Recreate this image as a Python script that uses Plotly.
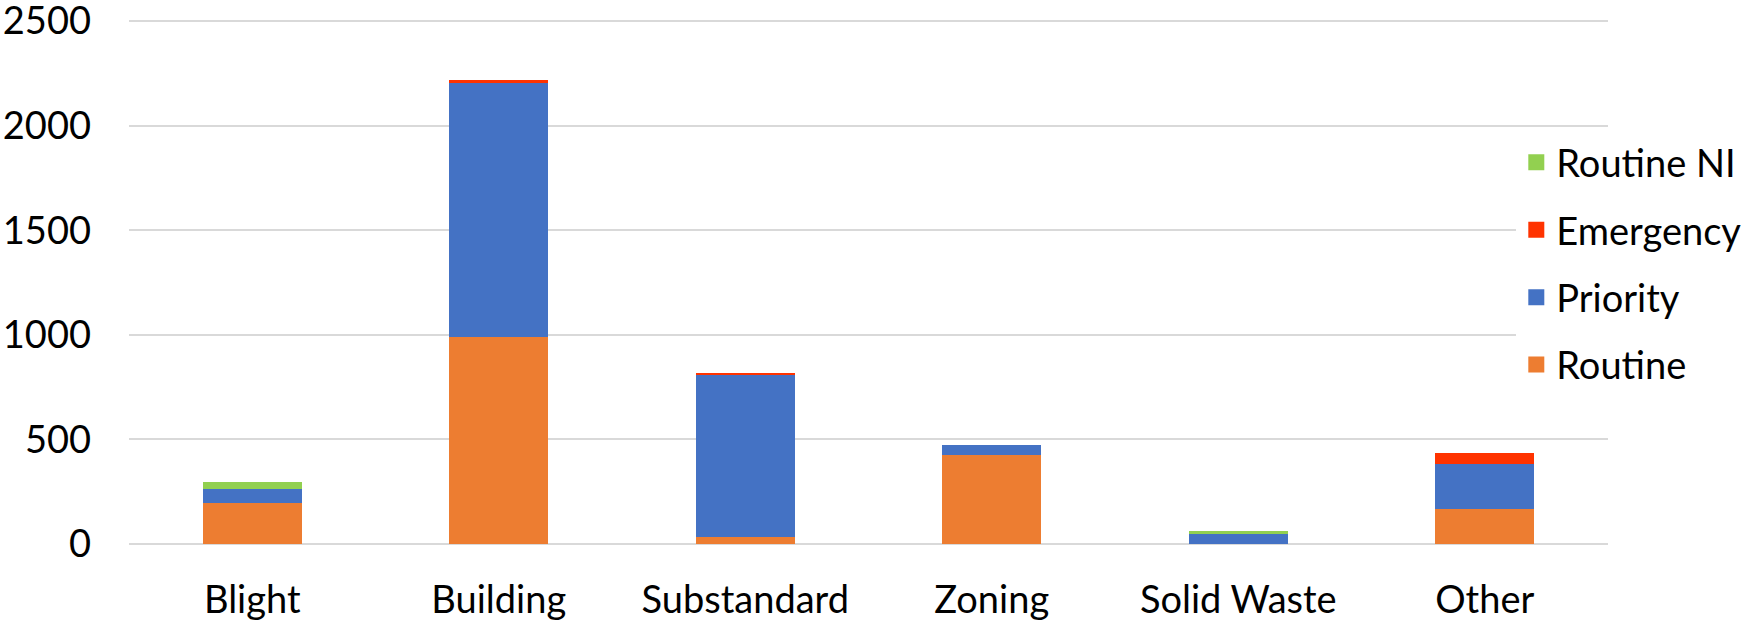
import plotly.graph_objects as go

categories = ["Blight", "Building", "Substandard", "Zoning", "Solid Waste", "Other"]
routine = [197, 990, 32, 425, 0, 166]
priority = [67, 1213, 780, 46, 52, 216]
emergency = [0, 14, 3, 0, 0, 55]
routine_ni = [34, 0, 0, 0, 8, 0]

series = [
    ("Routine", routine, "#ED7D31"),
    ("Priority", priority, "#4472C4"),
    ("Emergency", emergency, "#FF3300"),
    ("Routine NI", routine_ni, "#92D050"),
]

y_ticks = [0, 500, 1000, 1500, 2000, 2500]

FONT = "Lato"
FS = 38

fig = go.Figure()
n = len(series)
for i, (name, vals, color) in enumerate(series):
    fig.add_trace(go.Bar(
        x=categories, y=vals, name=name,
        marker=dict(color=color, line=dict(width=0)),
        showlegend=False,
    ))
# legend entries (larger square swatches)
for i, (name, vals, color) in enumerate(series):
    fig.add_trace(go.Scatter(
        x=[None], y=[None], name=name, mode="markers",
        marker=dict(symbol="square", size=16, color=color),
        legendgroup=name, legendrank=n - i,
        hoverinfo="skip",
    ))

fig.update_layout(
    barmode="stack",
    bargap=0.6,
    width=1745, height=620,
    margin=dict(l=129, r=137, t=20, b=76, autoexpand=False),
    paper_bgcolor="white",
    plot_bgcolor="white",
    font=dict(family=FONT, size=FS, color="black"),
    showlegend=True,
    legend=dict(
        traceorder="grouped",
        tracegroupgap=15,
        x=0.938, xanchor="left",
        y=0.535, yanchor="middle",
        bgcolor="white",
        font=dict(family=FONT, size=FS, color="black"),
        itemwidth=30,
    ),
    xaxis=dict(
        showgrid=False,
        showline=False,
        ticks="",
        automargin=False,
        tickfont=dict(family=FONT, size=FS, color="black"),
        ticklabelstandoff=30,
    ),
    yaxis=dict(
        range=[0, 2505],
        tickvals=y_ticks,
        ticktext=[str(v) for v in y_ticks],
        showgrid=True,
        gridcolor="#d9d9d9",
        gridwidth=2,
        zeroline=True,
        zerolinecolor="#d9d9d9",
        zerolinewidth=2,
        showline=False,
        ticks="",
        automargin=False,
        ticklabeloverflow="allow",
        tickfont=dict(family=FONT, size=FS, color="black"),
        ticklabelstandoff=37,
    ),
)

fig.write_html("out.html")
